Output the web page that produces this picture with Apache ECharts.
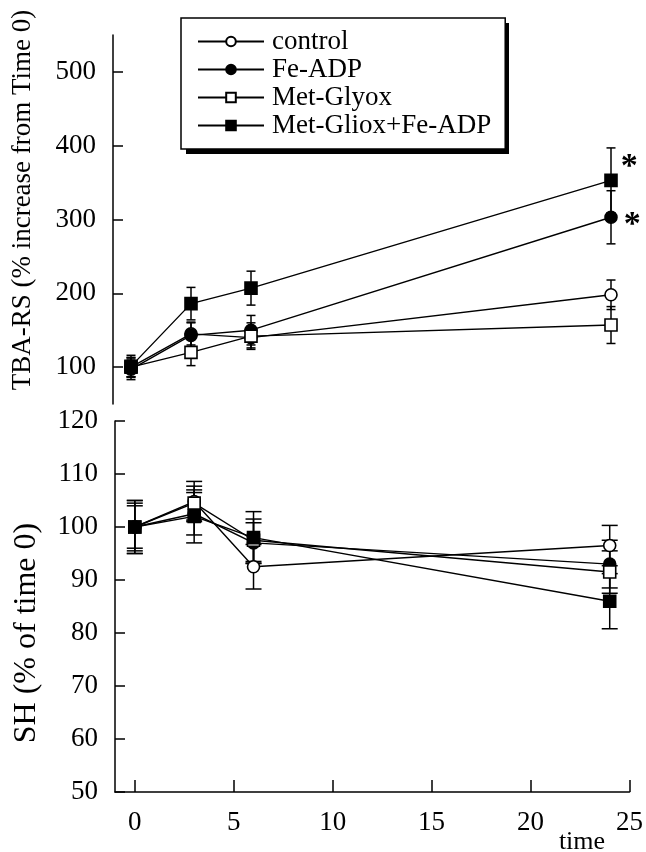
<!DOCTYPE html>
<html>
<head>
<meta charset="utf-8">
<script src="https://cdn.jsdelivr.net/npm/echarts@6/dist/echarts.min.js"></script>
<style>
html,body{margin:0;padding:0;background:#fff;}
#chart{width:646px;height:852px;}
</style>
</head>
<body>
<div id="chart"></div>
<script>
// ---- data ----
const times = [0, 3, 6, 24];
const seriesNames = ['control', 'Fe-ADP', 'Met-Glyox', 'Met-Gliox+Fe-ADP'];

// TBA-RS (% increase from Time 0)
const tbaControl = [100, 145, 140, 198];
const tbaFeADP = [97, 143, 150, 303];
const tbaMetGlyox = [100, 120, 142, 157];
const tbaMetGlioxFeADP = [101, 186, 207, 353];
const tbaControlErr = [13, 15, 14, 20];
const tbaFeADPErr = [14, 18, 20, 36];
const tbaMetGlyoxErr = [13, 18, 18, 25];
const tbaMetGlioxFeADPErr = [15, 22, 23, 44];

// SH (% of time 0)
const shControl = [100, 104.8, 92.5, 96.5];
const shFeADP = [100, 102.5, 97, 93];
const shMetGlyox = [100, 104.5, 97.5, 91.5];
const shMetGlioxFeADP = [100, 102, 98, 86];
const shControlErr = [4.5, 3.8, 4.2, 3.8];
const shFeADPErr = [4, 4, 3.8, 4.5];
const shMetGlyoxErr = [5, 3.2, 4, 4];
const shMetGlioxFeADPErr = [5, 5, 4.9, 5.2];

const xTicks = [0, 5, 10, 15, 20, 25];
const tbaTicks = [100, 200, 300, 400, 500];
const significant = ['', '*', '', '*']; // marker at last time point

// ---- styling ----
const FONT = "'Liberation Serif', 'Times New Roman', serif";
const symbols = ['circle', 'circle', 'rect', 'rect'];
const fills = ['#fff', '#000', '#fff', '#000'];
const asteriskOffset = [[0, 0], [0, 8], [0, 0], [0, -13]];

function errRender(capW) {
  return function (params, api) {
    const x = api.value(0), y = api.value(1), e = api.value(2);
    const p1 = api.coord([x, y + e]);
    const p2 = api.coord([x, y - e]);
    const st = { stroke: '#000', lineWidth: 1.5 };
    return {
      type: 'group',
      children: [
        { type: 'line', shape: { x1: p1[0], y1: p1[1], x2: p2[0], y2: p2[1] }, style: st },
        { type: 'line', shape: { x1: p1[0] - capW / 2, y1: p1[1], x2: p1[0] + capW / 2, y2: p1[1] }, style: st },
        { type: 'line', shape: { x1: p2[0] - capW / 2, y1: p2[1], x2: p2[0] + capW / 2, y2: p2[1] }, style: st }
      ]
    };
  };
}

const tbaVals = [tbaControl, tbaFeADP, tbaMetGlyox, tbaMetGlioxFeADP];
const tbaErrs = [tbaControlErr, tbaFeADPErr, tbaMetGlyoxErr, tbaMetGlioxFeADPErr];
const shVals = [shControl, shFeADP, shMetGlyox, shMetGlioxFeADP];
const shErrs = [shControlErr, shFeADPErr, shMetGlyoxErr, shMetGlioxFeADPErr];

const series = [];
function addPanel(vals, errs, axisIdx, capW, withStars) {
  vals.forEach((v, k) => {
    series.push({
      type: 'line',
      name: seriesNames[k],
      xAxisIndex: axisIdx, yAxisIndex: axisIdx,
      symbol: symbols[k],
      symbolSize: 12,
      showAllSymbol: true,
      color: fills[k],
      lineStyle: { color: '#000', width: 1.4 },
      itemStyle: { color: fills[k], borderColor: '#000', borderWidth: 1.6 },
      data: times.map((t, i) => {
        const item = { value: [t, v[i]] };
        if (withStars && i === times.length - 1 && significant[k]) {
          item.label = {
            show: true, formatter: significant[k], position: 'right', distance: k === 3 ? 3 : 6,
            offset: asteriskOffset[k],
            fontFamily: FONT, fontSize: 34, fontWeight: 'bold', color: '#000'
          };
        }
        return item;
      }),
      z: 3,
      animation: false
    });
  });
  vals.forEach((v, k) => {
    series.push({
      type: 'custom',
      name: seriesNames[k] + ' error',
      xAxisIndex: axisIdx, yAxisIndex: axisIdx,
      renderItem: errRender(capW),
      data: times.map((t, i) => [t, v[i], errs[k][i]]),
      z: 1,
      silent: true
    });
  });
}
addPanel(tbaVals, tbaErrs, 0, 9, true);
addPanel(shVals, shErrs, 1, 16, false);

const labelStyle = { fontFamily: FONT, fontSize: 27, color: '#000' };

const option = {
  animation: false,
  backgroundColor: '#fff',
  textStyle: { fontFamily: FONT },
  grid: [
    { left: 113, top: 35, width: 518, height: 369 },
    { left: 115, top: 421, width: 520, height: 371 }
  ],
  xAxis: [
    { gridIndex: 0, type: 'value', min: -0.9, max: 25, show: false },
    {
      gridIndex: 1, type: 'value', min: -1, max: 25,
      axisLine: { show: true, onZero: false, lineStyle: { color: '#000', width: 1.5 } },
      axisTick: { show: true, inside: true, length: 12, customValues: xTicks, lineStyle: { color: '#000', width: 1.5 } },
      axisLabel: Object.assign({ customValues: xTicks, margin: 17 }, labelStyle),
      splitLine: { show: false }
    }
  ],
  yAxis: [
    {
      gridIndex: 0, type: 'value', min: 50, max: 550,
      axisLine: { show: true, onZero: false, lineStyle: { color: '#000', width: 1.5 } },
      axisTick: { show: true, inside: true, length: 10, customValues: tbaTicks, lineStyle: { color: '#000', width: 1.5 } },
      axisLabel: Object.assign({ customValues: tbaTicks, margin: 17 }, labelStyle),
      splitLine: { show: false }
    },
    {
      gridIndex: 1, type: 'value', min: 50, max: 120, interval: 10,
      axisLine: { show: true, onZero: false, lineStyle: { color: '#000', width: 1.5 } },
      axisTick: { show: true, inside: true, length: 10, lineStyle: { color: '#000', width: 1.5 } },
      axisLabel: Object.assign({ margin: 17 }, labelStyle),
      splitLine: { show: false }
    }
  ],
  legend: {
    data: seriesNames,
    orient: 'vertical',
    left: 181, top: 18,
    padding: [10, 14, 10, 16],
    itemGap: 1,
    itemWidth: 66, itemHeight: 12,
    textStyle: { fontFamily: FONT, fontSize: 27, color: '#000', padding: [0, 0, 0, 3] },
    backgroundColor: '#fff',
    borderColor: '#000', borderWidth: 1.5,
    selectedMode: false,
    z: 6
  },
  graphic: [
    { type: 'rect', z: 5, shape: { x: 186, y: 23, width: 323, height: 131 }, style: { fill: '#000' } },
    { type: 'text', x: 23, y: 200, rotation: Math.PI / 2, style: { text: 'TBA-RS (% increase from Time 0)', font: "27px 'Liberation Serif', serif", fill: '#000', align: 'center', verticalAlign: 'middle' } },
    { type: 'text', x: 27, y: 633, rotation: Math.PI / 2, style: { text: 'SH (% of time 0)', font: "32px 'Liberation Serif', serif", fill: '#000', align: 'center', verticalAlign: 'middle' } },
    { type: 'text', x: 582, y: 842, style: { text: 'time', font: "26px 'Liberation Serif', serif", fill: '#000', align: 'center', verticalAlign: 'middle' } }
  ],
  series: series
};

const chart = echarts.init(document.getElementById('chart'), null, { renderer: 'canvas' });
chart.setOption(option);
</script>
</body>
</html>
